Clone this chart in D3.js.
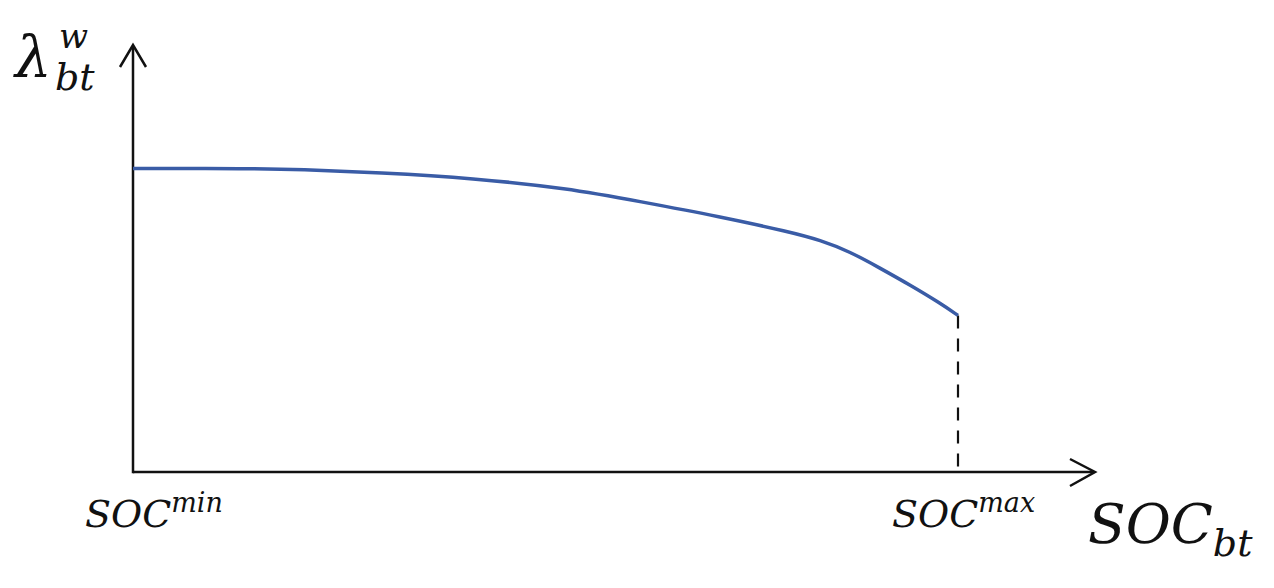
<!DOCTYPE html>
<html><head><meta charset="utf-8">
<script src="https://cdn.jsdelivr.net/npm/d3@7"></script>
<style>
html,body{margin:0;padding:0;background:#fff;}
text{font-family:"DejaVu Serif",serif;font-style:italic;fill:#111;}
</style></head>
<body><svg id="chart" width="1274" height="588"></svg>
<script>
// SOC position (0 = SOC^min, 100 = SOC^max)
const socValues = [0, 14.2, 20.2, 29.9, 41.2, 52.6, 61.5, 71.2, 79.6, 83.3, 86.9, 90.6, 94.2, 97.8, 100];
// λ^w_bt (relative value, 100 = value at SOC^min)
const lambdaValues = [100, 100, 99.7, 98.6, 96.8, 93.5, 89.1, 84.1, 79.1, 76.4, 72.6, 67.1, 61.6, 55.7, 51.6];
const xTickLabels = [{v:0, base:"SOC", sup:"min"}, {v:100, base:"SOC", sup:"max"}];

const svg = d3.select("#chart");
const x = d3.scaleLinear().domain([0, 100]).range([133, 958]);
const y = d3.scaleLinear().domain([0, 100]).range([472, 168.5]);
const xEnd = 1095, yEnd = 45;

// axes
svg.append("line").attr("x1", x(0)).attr("x2", xEnd - 1).attr("y1", y(0)).attr("y2", y(0))
  .attr("stroke", "#111").attr("stroke-width", 2.5);
svg.append("line").attr("x1", x(0)).attr("x2", x(0)).attr("y1", y(0) + 1.2).attr("y2", yEnd + 1)
  .attr("stroke", "#111").attr("stroke-width", 2.5);
// arrowheads
svg.append("path").attr("d", `M${xEnd-25},${y(0)-13} L${xEnd},${y(0)} L${xEnd-25},${y(0)+14}`)
  .attr("fill", "none").attr("stroke", "#111").attr("stroke-width", 2.5);
svg.append("path").attr("d", `M${x(0)-13},${yEnd+22} L${x(0)},${yEnd} L${x(0)+13},${yEnd+22}`)
  .attr("fill", "none").attr("stroke", "#111").attr("stroke-width", 2.5);

// dashed drop line at SOC^max
const last = socValues.length - 1;
svg.append("line").attr("x1", x(socValues[last])).attr("x2", x(socValues[last]))
  .attr("y1", y(lambdaValues[last])).attr("y2", y(0))
  .attr("stroke", "#111").attr("stroke-width", 2.2).attr("stroke-dasharray", "13,10");

// curve
const line = d3.line().x((d, i) => x(socValues[i])).y(d => y(d)).curve(d3.curveBasis);
svg.append("path").datum(lambdaValues).attr("d", line)
  .attr("fill", "none").attr("stroke", "#3a5ca6").attr("stroke-width", 3.5);

// tick labels
xTickLabels.forEach(t => {
  const tx = svg.append("text").attr("x", x(t.v) + (t.v === 0 ? -48 : -66)).attr("y", 527).attr("font-size", 38);
  tx.append("tspan").text(t.base);
  tx.append("tspan").attr("font-size", 27).attr("dy", -15).text(t.sup);
});

// axis titles
const xt = svg.append("text").attr("x", 1088).attr("y", 543).attr("font-size", 55);
xt.append("tspan").text("SOC");
xt.append("tspan").attr("font-size", 38).attr("dy", 13).text("bt");

const yt = svg.append("g");
yt.append("text").attr("x", 15).attr("y", 77).attr("font-size", 58).text("λ");
yt.append("text").attr("x", 59).attr("y", 48).attr("font-size", 34).text("w");
yt.append("text").attr("x", 55).attr("y", 90).attr("font-size", 38).text("bt");
</script></body></html>
